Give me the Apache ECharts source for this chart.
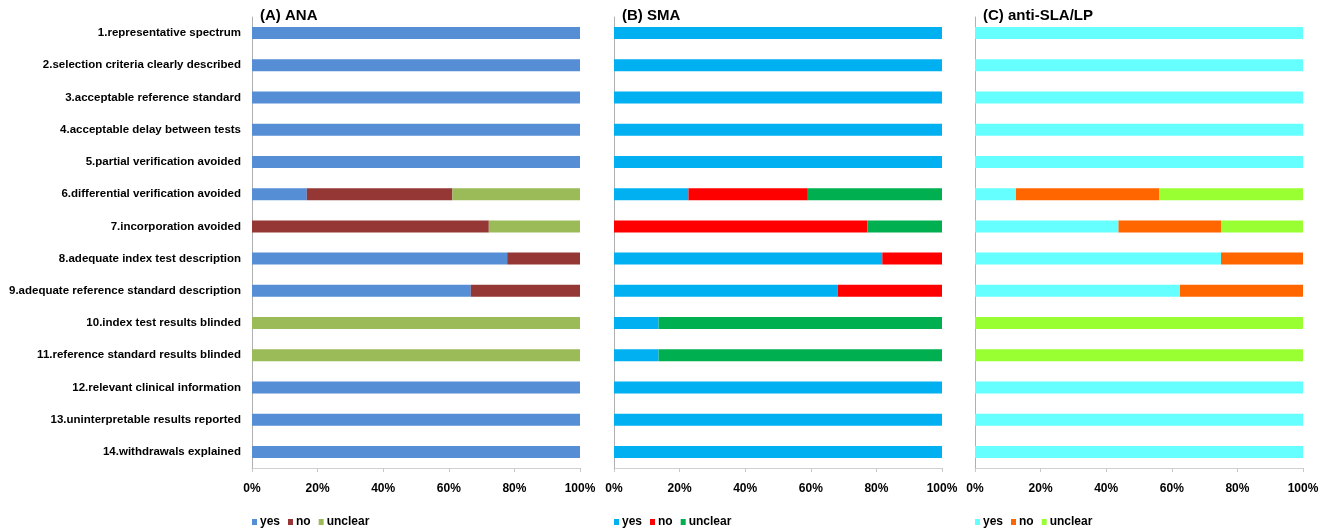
<!DOCTYPE html>
<html>
<head>
<meta charset="utf-8">
<script src="https://cdn.jsdelivr.net/npm/echarts@6/dist/echarts.min.js"></script>
<style>
  html, body { margin: 0; padding: 0; background: #fff; }
  #chart { width: 1326px; height: 528px; }
</style>
</head>
<body>
<div id="chart"></div>
<script>
// QUADAS items, top to bottom
const categories = [
  '1.representative spectrum',
  '2.selection criteria clearly described',
  '3.acceptable reference standard',
  '4.acceptable delay between tests',
  '5.partial verification avoided',
  '6.differential verification avoided',
  '7.incorporation avoided',
  '8.adequate index test description',
  '9.adequate reference standard description',
  '10.index test results blinded',
  '11.reference standard results blinded',
  '12.relevant clinical information',
  '13.uninterpretable results reported',
  '14.withdrawals explained'
];

const panelTitles = ['(A) ANA', '(B) SMA', '(C) anti-SLA/LP'];
const answerNames = ['yes', 'no', 'unclear'];
const xTicks = [0, 20, 40, 60, 80, 100];

// (A) ANA, percent
const anaYes     = [100, 100, 100, 100, 100, 16.7, 0,    77.8, 66.7, 0,   0,   100, 100, 100];
const anaNo      = [0,   0,   0,   0,   0,   44.4, 72.2, 22.2, 33.3, 0,   0,   0,   0,   0];
const anaUnclear = [0,   0,   0,   0,   0,   38.9, 27.8, 0,    0,    100, 100, 0,   0,   0];

// (B) SMA
const smaYes     = [100, 100, 100, 100, 100, 22.7, 0,    81.8, 68.2, 13.6, 13.6, 100, 100, 100];
const smaNo      = [0,   0,   0,   0,   0,   36.4, 77.3, 18.2, 31.8, 0,    0,    0,   0,   0];
const smaUnclear = [0,   0,   0,   0,   0,   40.9, 22.7, 0,    0,    86.4, 86.4, 0,   0,   0];

// (C) anti-SLA/LP
const slaYes     = [100, 100, 100, 100, 100, 12.5,  43.75, 75, 62.5, 0,   0,   100, 100, 100];
const slaNo      = [0,   0,   0,   0,   0,   43.75, 31.25, 25, 37.5, 0,   0,   0,   0,   0];
const slaUnclear = [0,   0,   0,   0,   0,   43.75, 25,    0,  0,    100, 100, 0,   0,   0];

const panelData = [
  [anaYes, anaNo, anaUnclear],
  [smaYes, smaNo, smaUnclear],
  [slaYes, slaNo, slaUnclear]
];
const panelColors = [
  ['#558ED5', '#953735', '#9BBB59'],
  ['#00B0F0', '#FF0000', '#00B050'],
  ['#66FFFF', '#FF6600', '#99FF33']
];

const FONT = "'Liberation Sans', Arial, sans-serif";
const gridLeft = [252, 614, 975];
const gridWidth = 328;

const chart = echarts.init(document.getElementById('chart'));

const grid = [], xAxis = [], yAxis = [], series = [], legend = [], title = [];

for (let p = 0; p < 3; p++) {
  grid.push({ left: gridLeft[p], width: gridWidth, top: 17, bottom: 60, outerBoundsMode: 'none' });

  title.push({
    text: panelTitles[p],
    left: gridLeft[p] + 3,
    top: 3,
    textStyle: { fontFamily: FONT, fontSize: 15, fontWeight: 'bold', color: '#000' }
  });

  xAxis.push({
    type: 'value',
    gridIndex: p,
    min: 0,
    max: 100,
    interval: 20,
    splitLine: { show: false },
    axisLine: { show: true, lineStyle: { color: '#D0D0D0', width: 1 } },
    axisTick: { show: true, length: 4, lineStyle: { color: '#C8C8C8' } },
    axisLabel: {
      margin: 15,
      formatter: v => xTicks.includes(v) ? v + '%' : '',
      fontFamily: FONT, fontSize: 12, fontWeight: 'bold', color: '#000'
    }
  });

  yAxis.push({
    type: 'category',
    gridIndex: p,
    data: categories,
    inverse: true,
    axisLine: { show: true, lineStyle: { color: '#B0B0B0', width: 1 } },
    axisTick: { show: false },
    axisLabel: {
      show: p === 0,
      margin: 11,
      fontFamily: FONT, fontSize: 11.5, fontWeight: 'bold', color: '#000'
    }
  });

  const names = [];
  for (let k = 0; k < 3; k++) {
    const name = panelTitles[p] + '|' + answerNames[k];
    names.push(name);
    series.push({
      name: name,
      type: 'bar',
      stack: 'panel' + p,
      xAxisIndex: p,
      yAxisIndex: p,
      barWidth: 12,
      itemStyle: { color: panelColors[p][k] },
      data: panelData[p][k]
    });
  }

  legend.push({
    data: names,
    left: gridLeft[p] - 5,
    top: 511,
    itemWidth: 5,
    itemHeight: 6,
    itemGap: 8,
    icon: 'rect',
    formatter: n => n.split('|')[1],
    textStyle: { fontFamily: FONT, fontSize: 12, fontWeight: 'bold', color: '#000', padding: [0, 0, 0, -2] }
  });
}

chart.setOption({
  animation: false,
  title: title,
  grid: grid,
  xAxis: xAxis,
  yAxis: yAxis,
  legend: legend,
  series: series
});
</script>
</body>
</html>
